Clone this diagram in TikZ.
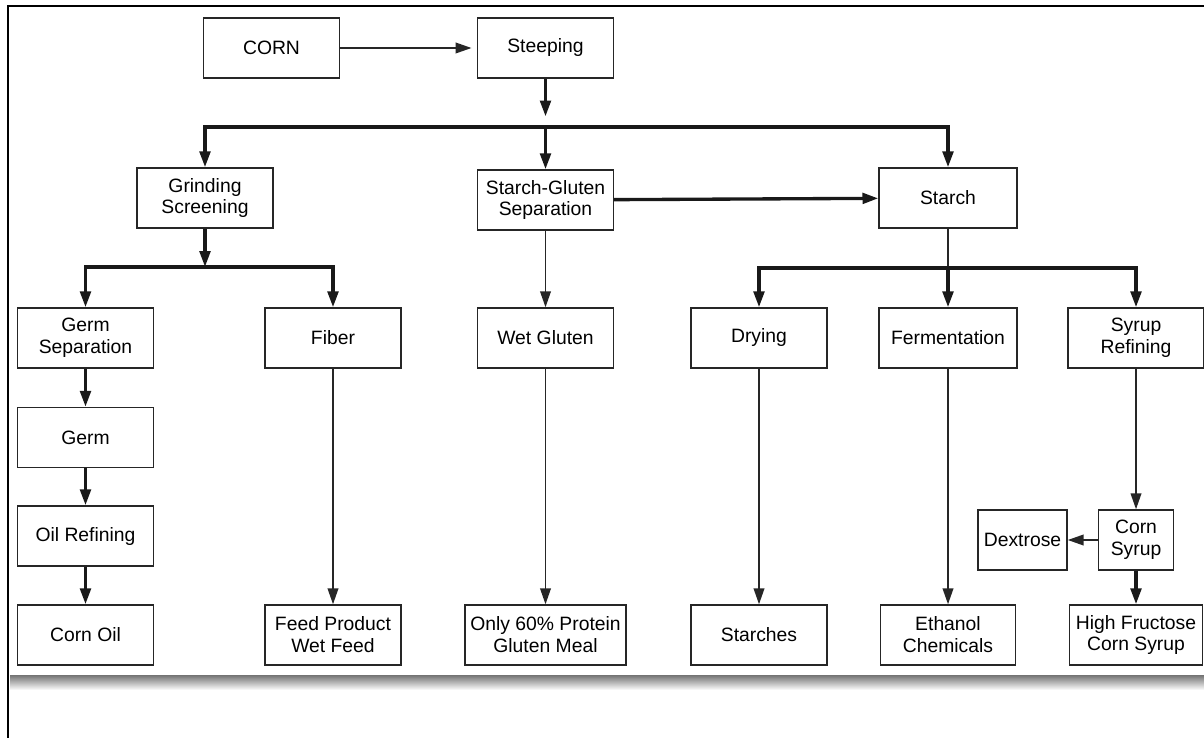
\documentclass[tikz,border=0pt]{standalone}
\usepackage{fontspec}
\setmainfont{Liberation Sans}
\usetikzlibrary{arrows.meta,positioning,calc}

\begin{document}
\begin{tikzpicture}[
    font=\fontsize{11}{12.5}\selectfont,
    box/.style={draw=black!85, line width=0.8pt, align=center, inner sep=1pt, minimum width=2.72cm, minimum height=1.2cm},
    bigarrow/.style={-{Triangle[length=9pt,width=6pt]}, line width=1.9pt, draw=black!90},
    arrow/.style={-{Triangle[length=9pt,width=6pt]}, line width=1pt, draw=black!85},
    plain/.style={line width=1pt, draw=black!85}
]
\useasboundingbox (0,0) rectangle (24.08,-14.76);

% frame and shadow
\shade[top color=black!55, bottom color=white] (0.2,-13.5) rectangle (24.08,-13.8);
\draw[line width=1.1pt] (0.16,-14.76) -- (0.16,-0.12) -- (24.08,-0.12);

% top row
\node[box] (corn) at (5.43,-0.96) {CORN};
\node[box] (steep) at (10.91,-0.96) {Steeping};

% second row
\node[box] (grind) at (4.1,-3.96) {Grinding\\Screening};
\node[box] (sgsep) at (10.91,-4.0) {Starch-Gluten\\Separation};
\node[box, minimum width=2.76cm] (starch) at (18.96,-3.96) {Starch};

% third row
\node[box] (germsep) at (1.71,-6.76) {Germ\\Separation};
\node[box] (fiber) at (6.66,-6.76) {Fiber};
\node[box] (wetglu) at (10.91,-6.76) {Wet Gluten};
\node[box] (dry) at (15.18,-6.76) {Drying};
\node[box, minimum width=2.76cm] (ferm) at (18.96,-6.76) {Fermentation};
\node[box] (syrref) at (22.72,-6.76) {Syrup\\Refining};

% germ chain
\node[box] (germ) at (1.71,-8.75) {Germ};
\node[box] (oilref) at (1.71,-10.72) {Oil Refining};

% corn syrup
\node[box, minimum width=1.5cm] (cornsyr) at (22.72,-10.8) {Corn\\Syrup};
\node[box, minimum width=1.78cm] (dext) at (20.45,-10.8) {Dextrose};

% bottom row
\node[box] (cornoil) at (1.71,-12.7) {Corn Oil};
\node[box] (feed) at (6.66,-12.7) {Feed Product\\Wet Feed};
\node[box, minimum width=3.22cm] (glumeal) at (10.91,-12.7) {Only 60\% Protein\\Gluten Meal};
\node[box] (starches) at (15.18,-12.7) {Starches};
\node[box, minimum width=2.7cm] (ethanol) at (18.96,-12.7) {Ethanol\\Chemicals};
\node[box, minimum width=2.66cm] (hfcs) at (22.72,-12.7) {High Fructose\\Corn Syrup};

% bus points
\coordinate (mainbus) at (10.91,-2.54);
\coordinate (grindbus) at (4.1,-5.34);
\coordinate (starchbus) at (18.96,-5.36);

\draw[arrow, shorten >=3pt] (corn) -- (steep);
\draw[bigarrow, shorten >=6pt] (steep) -- (mainbus);
\draw[bigarrow] (mainbus) -| (grind);
\draw[bigarrow] (mainbus) -- (sgsep);
\draw[bigarrow] (mainbus) -| (starch);
\draw[bigarrow] (sgsep) -- (starch);

\draw[bigarrow] (grind) -- (grindbus);
\draw[bigarrow] (grindbus) -| (germsep);
\draw[bigarrow] (grindbus) -| (fiber);
\draw[bigarrow] (germsep) -- (germ);
\draw[bigarrow] (germ) -- (oilref);
\draw[bigarrow] (oilref) -- (cornoil);
\draw[arrow] (fiber) -- (feed);

\draw[arrow] (sgsep) -- (wetglu);
\draw[arrow] (wetglu) -- (glumeal);

\draw[plain] (starch) -- (starchbus);
\draw[bigarrow] (starchbus) -| (dry);
\draw[bigarrow] (starchbus) -- (ferm);
\draw[bigarrow] (starchbus) -| (syrref);
\draw[arrow] (dry) -- (starches);
\draw[arrow] (ferm) -- (ethanol);
\draw[arrow] (syrref) -- (cornsyr);
\draw[arrow] (cornsyr) -- (dext);
\draw[bigarrow] (cornsyr) -- (hfcs);
\end{tikzpicture}
\end{document}
